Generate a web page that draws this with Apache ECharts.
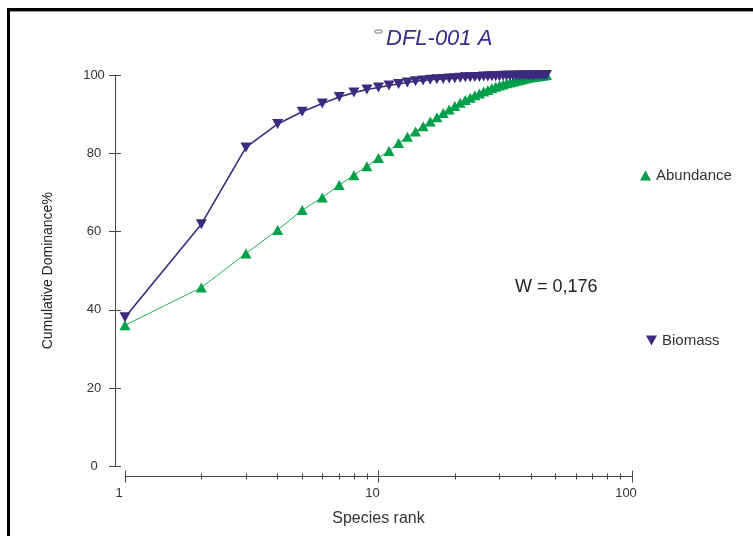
<!DOCTYPE html>
<html>
<head>
<meta charset="utf-8">
<script src="https://cdn.jsdelivr.net/npm/echarts@6/dist/echarts.min.js"></script>
<style>html,body{margin:0;padding:0;background:#fff}#c{width:753px;height:536px}</style>
</head>
<body>
<div id="c"></div>
<script>
const ranks = [1,2,3,4,5,6,7,8,9,10,11,12,13,14,15,16,17,18,19,20,21,22,23,24,25,26,27,28,29,30,31,32,33,34,35,36,37,38,39,40,41,42,43,44,45,46];
const abundance = [36.1,45.7,54.4,60.4,65.5,68.7,71.9,74.4,76.7,78.8,80.6,82.6,84.2,85.6,86.9,88.1,89.2,90.3,91.2,92.1,92.9,93.6,94.2,94.8,95.3,95.8,96.2,96.6,97.0,97.3,97.6,97.9,98.1,98.3,98.5,98.7,98.9,99.1,99.3,99.4,99.5,99.6,99.7,99.8,99.9,100];
const biomass = [38.1,61.9,81.5,87.5,90.6,92.7,94.4,95.5,96.3,96.8,97.3,97.7,98.1,98.4,98.6,98.8,98.9,99.0,99.1,99.2,99.3,99.4,99.4,99.5,99.5,99.6,99.6,99.7,99.7,99.7,99.8,99.8,99.8,99.8,99.9,99.9,99.9,99.9,99.9,99.9,99.9,100,100,100,100,100];
const xMajorTicks = [1,10,100];
const xMinorTicks = [2,3,4,5,6,7,8,9,20,30,40,50,60,70,80,90];
const titleText = 'DFL-001 A';
const statText = 'W = 0,176';

const chart = echarts.init(document.getElementById('c'), null, {renderer:'canvas'});
const FONT = "'Liberation Sans', Arial, sans-serif";
const axisColor = '#444';
const purple = '#3b2a7e';
const green = '#00a04a';
const downTri = 'path://M0,0L10,0L5,9Z';

function xAx(extra){
  return Object.assign({
    type:'log', logBase:10, min:1, max:100, gridIndex:0, offset:10,
    position:'bottom',
    axisLine:{show:false, onZero:false}, splitLine:{show:false}, minorTick:{show:false}, minorSplitLine:{show:false},
    axisLabel:{show:false}, axisTick:{show:false}
  }, extra);
}
function yAx(extra){
  return Object.assign({
    type:'value', min:0, max:100, interval:20, offset:10, position:'left',
    axisLine:{show:false, onZero:false}, splitLine:{show:false}, axisLabel:{show:false}, axisTick:{show:false}
  }, extra);
}

const option = {
  backgroundColor:'#fff',
  animation:false,
  grid:{left:125, right:121, top:75, bottom:69.5},
  title:[
    {text:titleText, left:381, top:23, textStyle:{fontFamily:FONT, fontStyle:'italic', fontWeight:'normal', fontSize:22, color:'#3b2a8a'}},
    {text:statText, left:510, top:273, textStyle:{fontFamily:FONT, fontWeight:'normal', fontSize:18, color:'#222'}}
  ],
  legend:[
    {data:[{name:'Abundance', icon:'triangle'}], left:635, top:163, itemWidth:11, itemHeight:10, textStyle:{fontFamily:FONT, fontSize:15, color:'#333'}},
    {data:[{name:'Biomass', icon:downTri}], left:641, top:328, itemWidth:11, itemHeight:10, textStyle:{fontFamily:FONT, fontSize:15, color:'#333'}}
  ],
  xAxis:[
    xAx({
      axisLine:{show:true, onZero:false, lineStyle:{color:axisColor, width:1}},
      axisTick:{show:true, inside:false, length:6, customValues:xMajorTicks, lineStyle:{color:axisColor}},
      axisLabel:{show:true, customValues:xMajorTicks, fontFamily:FONT, fontSize:13, color:'#333', margin:10, padding:[0,12,0,0]},
      name:'Species rank', nameLocation:'middle', nameGap:34,
      nameTextStyle:{fontFamily:FONT, fontSize:16, color:'#333'}
    }),
    xAx({axisTick:{show:true, inside:true, length:6, customValues:xMajorTicks, lineStyle:{color:axisColor}}}),
    xAx({axisTick:{show:true, inside:false, length:3, customValues:xMinorTicks, lineStyle:{color:axisColor}}}),
    xAx({axisTick:{show:true, inside:true, length:3, customValues:xMinorTicks, lineStyle:{color:axisColor}}})
  ],
  yAxis:[
    yAx({
      axisLine:{show:true, onZero:false, lineStyle:{color:axisColor, width:1}},
      axisTick:{show:true, inside:false, length:6, lineStyle:{color:axisColor}},
      axisLabel:{show:true, fontFamily:FONT, fontSize:13, color:'#333', margin:21, align:'center'},
      name:'Cumulative Dominance%', nameLocation:'middle', nameGap:60, nameRotate:90,
      nameTextStyle:{fontFamily:FONT, fontSize:14, color:'#222'}
    }),
    yAx({axisTick:{show:true, inside:true, length:6, lineStyle:{color:axisColor}}})
  ],
  series:[
    {
      name:'Abundance', type:'line', xAxisIndex:0, yAxisIndex:0,
      data: ranks.map((r,i)=>[r, abundance[i]]),
      symbol:'triangle', symbolSize:[11,10],
      itemStyle:{color:green},
      lineStyle:{color:'#22b35a', width:1},
      z:2
    },
    {
      name:'Biomass', type:'line', xAxisIndex:0, yAxisIndex:0,
      data: ranks.map((r,i)=>[r, biomass[i]]),
      symbol:downTri, symbolSize:[11,10],
      itemStyle:{color:purple},
      lineStyle:{color:purple, width:1.6},
      z:3
    }
  ],
  graphic:[
    {type:'rect', shape:{x:7, y:8, width:746, height:3}, style:{fill:'#000'}, silent:true},
    {type:'rect', shape:{x:7, y:11, width:746, height:1}, style:{fill:'#999'}, silent:true},
    {type:'rect', shape:{x:7, y:8, width:3, height:528}, style:{fill:'#000'}, silent:true},
    {type:'rect', shape:{x:375, y:30, width:7, height:3, r:1}, style:{fill:'#fff', stroke:'#777', lineWidth:1}, silent:true}
  ]
};
chart.setOption(option);
</script>
</body>
</html>
